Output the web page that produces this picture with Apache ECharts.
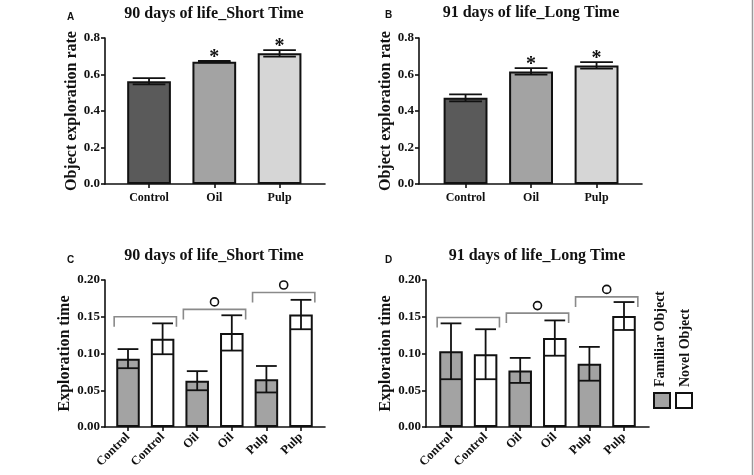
<!DOCTYPE html>
<html><head><meta charset="utf-8">
<script src="https://cdn.jsdelivr.net/npm/echarts@6/dist/echarts.min.js"></script>
<style>html,body{margin:0;padding:0;background:#fff}#c{width:754px;height:475px}</style>
</head><body><div id="c"></div>
<script>
// ---------- data ----------
const groupCats = ['Control', 'Oil', 'Pulp'];
const groupColors = ['#5a5a5a', '#a3a3a3', '#d6d6d6'];

const rateA = [0.563, 0.670, 0.716];
const rateAErr = [0.017, 0.004, 0.018];
const rateASig = ['', '*', '*'];

const rateB = [0.472, 0.617, 0.650];
const rateBErr = [0.019, 0.018, 0.018];
const rateBSig = ['', '*', '*'];

const familiarC = [0.093, 0.063, 0.065];
const familiarCErr = [0.013, 0.013, 0.018];
const novelC = [0.120, 0.128, 0.153];
const novelCErr = [0.021, 0.024, 0.020];
const bracketC = [0.150, 0.160, 0.183];
const circleC = [false, true, true];

const familiarD = [0.103, 0.077, 0.086];
const familiarDErr = [0.038, 0.017, 0.023];
const novelD = [0.099, 0.121, 0.151];
const novelDErr = [0.034, 0.024, 0.019];
const bracketD = [0.149, 0.155, 0.177];
const circleD = [false, true, true];

const rateAxis = {min: 0, max: 0.8, interval: 0.2, decimals: 1};
const timeAxis = {min: 0, max: 0.2, interval: 0.05, decimals: 2};
const familiarColor = '#a3a3a3';
const novelColor = '#ffffff';

// ---------- styling helpers ----------
const SERIF = '"Liberation Serif", "Times New Roman", serif';
const SANS = '"Liberation Sans", Arial, sans-serif';
const INK = '#111';

const grids = [], xAxes = [], yAxes = [], series = [];

function buildPanel(o) {
  const aux = grids.length, main = aux + 1;
  grids.push({left: o.axisLeft, width: o.axisWidth, top: o.top, height: o.height});
  grids.push({left: o.mainLeft, width: o.mainWidth, top: o.top, height: o.height});
  xAxes.push({type: 'value', gridIndex: aux, min: 0, max: 1, axisLine: {onZero: false, lineStyle: {color: INK, width: 1.6}},
    axisTick: {show: false}, axisLabel: {show: false}, splitLine: {show: false}});
  yAxes.push({type: 'value', gridIndex: aux, min: o.y.min, max: o.y.max, interval: o.y.interval,
    axisLine: {show: true, lineStyle: {color: INK, width: 1.6}},
    axisTick: {show: true, length: 4, lineStyle: {color: INK, width: 1.6}},
    axisLabel: {margin: o.labelMargin, color: INK, fontFamily: SERIF, fontWeight: 'bold', fontSize: 13,
      formatter: v => v.toFixed(o.y.decimals)},
    splitLine: {show: false},
    name: o.yName, nameLocation: 'middle', nameGap: o.nameGap,
    nameTextStyle: {color: INK, fontFamily: SERIF, fontWeight: 'bold', fontSize: 16}});
  xAxes.push({type: 'category', gridIndex: main, data: o.cats,
    axisLine: {show: false}, axisTick: {show: true, alignWithLabel: true, length: 4, lineStyle: {color: INK, width: 1.6}},
    axisLabel: {interval: 0, rotate: o.rotate || 0, margin: o.xMargin, color: INK, fontFamily: SERIF, fontWeight: 'bold', fontSize: o.xFont}});
  yAxes.push({type: 'value', gridIndex: main, min: o.y.min, max: o.y.max, show: false});

  series.push({type: 'bar', xAxisIndex: main, yAxisIndex: main, barWidth: o.barFrac * 100 + '%',
    data: o.values.map((v, i) => ({value: v, itemStyle: {color: o.colors[i]}})),
    itemStyle: {borderColor: INK, borderWidth: 2}, silent: true});

  const sig = o.sig || [];
  series.push({type: 'custom', xAxisIndex: main, yAxisIndex: main, silent: true, z: 5,
    data: o.values.map((v, i) => [i, v, o.errs[i]]),
    renderItem: (params, api) => {
      const i = params.dataIndex;
      const x = api.value(0), m = api.value(1), e = api.value(2);
      const top = api.coord([x, m + e]), bot = api.coord([x, m - e]);
      const cap = api.size([1, 0])[0] * o.capFrac / 2;
      const st = {stroke: INK, lineWidth: 1.8, fill: null};
      const ch = [
        {type: 'line', shape: {x1: top[0], y1: top[1], x2: bot[0], y2: bot[1]}, style: st},
        {type: 'line', shape: {x1: top[0] - cap, y1: top[1], x2: top[0] + cap, y2: top[1]}, style: st},
        {type: 'line', shape: {x1: bot[0] - cap, y1: bot[1], x2: bot[0] + cap, y2: bot[1]}, style: st}
      ];
      if (sig[i]) ch.push({type: 'text', style: {text: sig[i], x: top[0], y: top[1] + 7, align: 'center', verticalAlign: 'bottom',
        font: 'bold 20px ' + SERIF, fill: INK}});
      return {type: 'group', children: ch};
    }});

  if (o.brackets) {
    series.push({type: 'custom', xAxisIndex: main, yAxisIndex: main, silent: true, z: 6,
      encode: {x: [0, 1], y: 2},
      data: o.brackets.map((b, k) => [2 * k, 2 * k + 1, b]),
      renderItem: (params, api) => {
        const k = params.dataIndex;
        const p1 = api.coord([api.value(0), api.value(2)]);
        const p2 = api.coord([api.value(1), api.value(2)]);
        const band = api.size([1, 0])[0];
        const cx = (p1[0] + p2[0]) / 2, half = band * 0.9, y = p1[1];
        const ch = [{type: 'polyline', shape: {points: [[cx - half, y + 10], [cx - half, y], [cx + half, y], [cx + half, y + 10]]},
          style: {stroke: '#8a8a8a', lineWidth: 1.6, fill: null}}];
        if (o.circles[k]) ch.push({type: 'circle', shape: {cx: cx, cy: y - 7.5, r: 4}, style: {stroke: INK, lineWidth: 1.6, fill: '#fff'}});
        return {type: 'group', children: ch};
      }});
  }
}

function interleave(a, b) { const r = []; a.forEach((v, i) => { r.push(v, b[i]); }); return r; }

buildPanel({axisLeft: 105, axisWidth: 220, mainLeft: 116.4, mainWidth: 195.8, top: 38, height: 146,
  cats: groupCats, values: rateA, errs: rateAErr, sig: rateASig, colors: groupColors,
  y: rateAxis, yName: 'Object exploration rate', nameGap: 21, labelMargin: 5, xMargin: 8, xFont: 12, barFrac: 0.67, capFrac: 0.5});
buildPanel({axisLeft: 419, axisWidth: 223, mainLeft: 432.8, mainWidth: 196.5, top: 38, height: 146,
  cats: groupCats, values: rateB, errs: rateBErr, sig: rateBSig, colors: groupColors,
  y: rateAxis, yName: 'Object exploration rate', nameGap: 22, labelMargin: 5, xMargin: 8, xFont: 12, barFrac: 0.67, capFrac: 0.5});
buildPanel({axisLeft: 105, axisWidth: 220, mainLeft: 110.7, mainWidth: 207.6, top: 280, height: 147,
  cats: interleave(groupCats, groupCats), values: interleave(familiarC, novelC), errs: interleave(familiarCErr, novelCErr),
  colors: interleave(groupCats.map(() => familiarColor), groupCats.map(() => novelColor)),
  y: timeAxis, yName: 'Exploration time', nameGap: 31, labelMargin: 5, xMargin: 8, xFont: 12.5, rotate: 45, barFrac: 0.68, capFrac: 0.6,
  brackets: bracketC, circles: circleC});
buildPanel({axisLeft: 426, axisWidth: 223, mainLeft: 433.7, mainWidth: 207.6, top: 280, height: 147,
  cats: interleave(groupCats, groupCats), values: interleave(familiarD, novelD), errs: interleave(familiarDErr, novelDErr),
  colors: interleave(groupCats.map(() => familiarColor), groupCats.map(() => novelColor)),
  y: timeAxis, yName: 'Exploration time', nameGap: 31, labelMargin: 5, xMargin: 8, xFont: 12.5, rotate: 45, barFrac: 0.68, capFrac: 0.6,
  brackets: bracketD, circles: circleD});

const titleStyle = {color: INK, fontFamily: SERIF, fontWeight: 'bold', fontSize: 16};
const letterStyle = {color: INK, fontFamily: SANS, fontWeight: 'bold', fontSize: 10};
const chart = echarts.init(document.getElementById('c'), null, {renderer: 'canvas'});
chart.setOption({
  animation: false,
  backgroundColor: '#fff',
  title: [
    {text: '90 days of life_Short Time', left: 214, top: 6, textAlign: 'center', textStyle: titleStyle, padding: 0},
    {text: '91 days of life_Long Time', left: 531, top: 5, textAlign: 'center', textStyle: titleStyle, padding: 0},
    {text: '90 days of life_Short Time', left: 214, top: 248, textAlign: 'center', textStyle: titleStyle, padding: 0},
    {text: '91 days of life_Long Time', left: 537, top: 248, textAlign: 'center', textStyle: titleStyle, padding: 0},
    {text: 'A', left: 67, top: 12, textStyle: letterStyle, padding: 0},
    {text: 'B', left: 385, top: 10, textStyle: letterStyle, padding: 0},
    {text: 'C', left: 67, top: 255, textStyle: letterStyle, padding: 0},
    {text: 'D', left: 385, top: 255, textStyle: letterStyle, padding: 0}
  ],
  grid: grids, xAxis: xAxes, yAxis: yAxes, series: series,
  graphic: [
    {type: 'rect', shape: {x: 654, y: 393, width: 16, height: 15}, style: {fill: familiarColor, stroke: INK, lineWidth: 2}},
    {type: 'rect', shape: {x: 676, y: 393, width: 16, height: 15}, style: {fill: novelColor, stroke: INK, lineWidth: 2}},
    {type: 'text', x: 660, y: 387, rotation: Math.PI / 2, style: {text: 'Familiar Object', align: 'left', verticalAlign: 'middle', font: 'bold 14px ' + SERIF, fill: INK}},
    {type: 'text', x: 685, y: 387, rotation: Math.PI / 2, style: {text: 'Novel Object', align: 'left', verticalAlign: 'middle', font: 'bold 14px ' + SERIF, fill: INK}},
    {type: 'line', shape: {x1: 752.5, y1: 0, x2: 752.5, y2: 475}, style: {stroke: '#9a9a9a', lineWidth: 1.5}}
  ]
});
</script></body></html>
